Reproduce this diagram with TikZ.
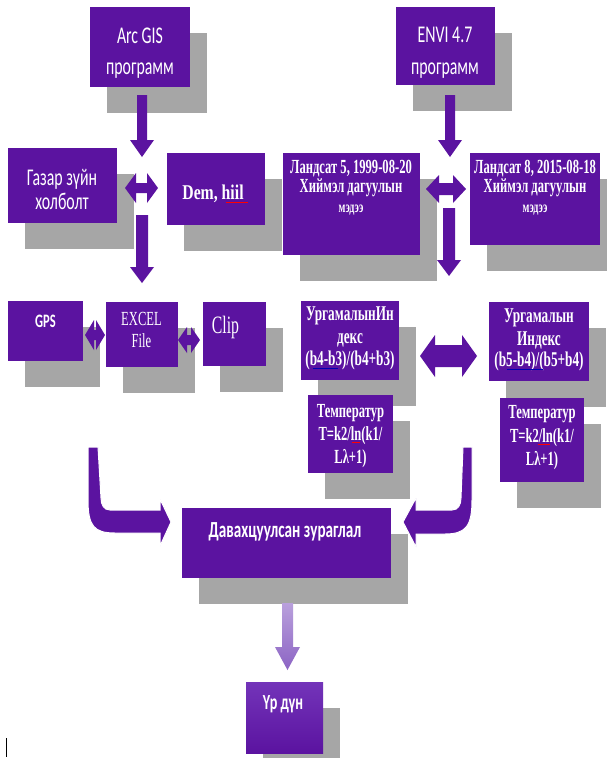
\documentclass[tikz,border=0pt]{standalone}
\usepackage{fontspec}
\setmainfont{Carlito}
\newfontfamily\calf[FakeStretch=0.66]{Carlito}
\newfontfamily\tnrf[FakeStretch=0.63]{Liberation Serif}
\newfontfamily\tnrg[FakeStretch=0.75]{Liberation Serif}
\definecolor{purp}{RGB}{91,19,160}
\definecolor{purpl}{RGB}{115,52,185}
\definecolor{shad}{RGB}{166,166,166}
\definecolor{lav1}{RGB}{185,160,220}
\definecolor{lav2}{RGB}{140,100,196}
\tikzset{
 pbox/.style={fill=purp, draw=none, inner sep=0pt, outer sep=0pt},
 txt/.style={text=white, inner sep=0pt, anchor=base},
 arr/.style={fill=purp, draw=none},
 barr/.style={fill=purp, draw=white, line width=1pt},
 spell/.style={line width=0.8pt},
}
\newcommand\pbx[6][]{%
 \fill[shad] (#3+17,#4+26) rectangle (#5+17,#6+26);
 \pgfmathsetmacro\pbxcx{(#3+#5)/2}\pgfmathsetmacro\pbxcy{(#4+#6)/2}%
 \pgfmathsetmacro\pbxw{#5-#3}\pgfmathsetmacro\pbxh{#6-#4}%
 \node[pbox,#1,minimum width=\pbxw pt,minimum height=\pbxh pt] (#2) at (\pbxcx,\pbxcy) {};}
% vertical down block arrow: x, top, tip, shaft half, head half, head length
\newcommand\darr[6]{\fill[arr] (#1-#4,#2) -- (#1+#4,#2) -- (#1+#4,#3-#6) -- (#1+#5,#3-#6) -- (#1,#3) -- (#1-#5,#3-#6) -- (#1-#4,#3-#6) -- cycle;}
% horizontal double block arrow: xl, xr, yc, shaft half, head half, head length
\newcommand\harr[6]{\fill[arr] (#1,#3) -- (#1+#6,#3-#5) -- (#1+#6,#3-#4) -- (#2-#6,#3-#4) -- (#2-#6,#3-#5) -- (#2,#3) -- (#2-#6,#3+#5) -- (#2-#6,#3+#4) -- (#1+#6,#3+#4) -- (#1+#6,#3+#5) -- cycle;}
\begin{document}
\begin{tikzpicture}[x=1pt,y=-1pt]
\useasboundingbox (0,0) rectangle (606,758);
\fill[white] (0,0) rectangle (606,758);

% top row
\pbx{arc}{90}{7}{190}{87}
\node[txt,font=\calf\fontsize{24}{28}\selectfont] (arcA) at (140,43) {Arc GIS};
\node[txt,font=\calf\fontsize{24}{28}\selectfont] (arcB) at (140,74) {программ};
\pbx{envi}{396}{7}{495}{85}
\node[txt,font=\calf\fontsize{24}{28}\selectfont] (enviA) at (445,42) {ENVI 4.7};
\node[txt,font=\calf\fontsize{24}{28}\selectfont] (enviB) at (445,74) {программ};

% second row
\pbx{gaz}{8}{148}{117}{223}
\node[txt,font=\calf\fontsize{24}{28}\selectfont] (gazA) at (62,185) {Газар зүйн};
\node[txt,font=\calf\fontsize{24}{28}\selectfont] (gazB) at (62,209) {холболт};
\pbx{dem}{167}{153}{265}{225}
\node[txt,font=\tnrg\bfseries\fontsize{21}{25}\selectfont] (demA) at (213,199) {Dem, hiil};
\draw[spell,red] (226,202) -- (248,202);
\pbx{lsa}{283}{153}{420}{255}
\node[txt,font=\tnrf\bfseries\fontsize{20}{24}\selectfont] (lsaA) at (351,173) {Ландсат 5, 1999-08-20};
\node[txt,font=\tnrf\bfseries\fontsize{20}{24}\selectfont] (lsaB) at (351,192) {Хиймэл дагуулын};
\node[txt,font=\tnrf\bfseries\fontsize{16}{19}\selectfont] (lsaC) at (351,212) {мэдээ};
\pbx{lsb}{470}{153}{600}{245}
\node[txt,font=\tnrf\bfseries\fontsize{20}{24}\selectfont] (lsbA) at (535,173) {Ландсат 8, 2015-08-18};
\node[txt,font=\tnrf\bfseries\fontsize{20}{24}\selectfont] (lsbB) at (535,192) {Хиймэл дагуулын};
\node[txt,font=\tnrf\bfseries\fontsize{16}{19}\selectfont] (lsbC) at (535,212) {мэдээ};

% third row
\pbx{gps}{8}{301}{83}{361}
\node[txt,font=\calf\bfseries\fontsize{19}{22}\selectfont] (gpsA) at (45.5,327) {GPS};
\pbx{xls}{106}{302}{178}{367}
\node[txt,font=\tnrf\fontsize{20}{24}\selectfont] (xlsA) at (141.5,325) {EXCEL};
\node[txt,font=\tnrf\fontsize{20}{24}\selectfont] (xlsB) at (141.5,347) {File};
\pbx{clip}{203}{302}{266}{366}
\node[txt,font=\tnrf\fontsize{25}{29}\selectfont] (clipA) at (225.5,333) {Clip};
\pbx{uga}{301}{301}{399}{380}
\node[txt,font=\tnrf\bfseries\fontsize{21}{25}\selectfont] (ugaA) at (350,320) {УргамалынИн};
\node[txt,font=\tnrf\bfseries\fontsize{21}{25}\selectfont] (ugaB) at (350,343) {декс};
\node[txt,font=\tnrf\bfseries\fontsize{21}{25}\selectfont] (ugaC) at (350,365) {(b4-b3)/(b4+b3)};
\draw[spell,blue!70!black] (313,368.5) -- (338,368.5);
\pbx{ugb}{489}{302}{589}{381}
\node[txt,font=\tnrf\bfseries\fontsize{21}{25}\selectfont] (ugbA) at (539,322) {Ургамалын};
\node[txt,font=\tnrf\bfseries\fontsize{21}{25}\selectfont] (ugbB) at (539,345) {Индекс};
\node[txt,font=\tnrf\bfseries\fontsize{21}{25}\selectfont] (ugbC) at (539,366) {(b5-b4)/(b5+b4)};
\draw[spell,blue!70!black] (507,369.5) -- (543,369.5);
\pbx{tma}{308}{395}{393}{473}
\node[txt,font=\tnrf\bfseries\fontsize{20}{24}\selectfont] (tmaA) at (350.5,417) {Температур};
\node[txt,font=\tnrf\bfseries\fontsize{20}{24}\selectfont] (tmaB) at (350.5,440) {T=k2/ln(k1/};
\node[txt,font=\tnrf\bfseries\fontsize{20}{24}\selectfont] (tmaC) at (350.5,463) {L\char"03BB+1)};
\draw[spell,red] (352,442) -- (360,442);
\pbx{tmb}{500}{398}{584}{482}
\node[txt,font=\tnrf\bfseries\fontsize{20}{24}\selectfont] (tmbA) at (542,418) {Температур};
\node[txt,font=\tnrf\bfseries\fontsize{20}{24}\selectfont] (tmbB) at (542,442) {T=k2/ln(k1/};
\node[txt,font=\tnrf\bfseries\fontsize{20}{24}\selectfont] (tmbC) at (542,465) {L\char"03BB+1)};
\draw[spell,red] (538,444.5) -- (550,444.5);

% bottom
\pbx{dav}{182}{508}{391}{578}
\node[txt,font=\calf\bfseries\fontsize{23}{27}\selectfont] (davA) at (285,537) {Давахцуулсан зураглал};
\pbx[top color=purpl,bottom color=purp]{res}{246}{682}{323}{753}
\node[txt,font=\calf\bfseries\fontsize{21.5}{25}\selectfont] (resA) at (283,709) {Үр дүн};

% block arrows
\darr{142}{95}{157}{5}{12}{17}
\harr{125}{158}{188}{5}{15}{11}
\darr{142}{215}{283}{6}{12}{16}
\darr{450}{95}{157}{5}{12}{17}
\harr{426}{466}{189}{6}{14}{13}
\darr{449}{208}{276}{6}{12}{16}
\harr{85}{105}{335}{5}{15}{9}
\harr{178}{200}{340}{5}{13}{9}
\harr{420}{477}{356}{11}{21}{15}

% bent arrows into the merged map
\fill[barr] (88,447) -- (88,500) .. controls (88,526) and (94,533) .. (115,533) -- (160,533) -- (160,546) -- (171,522) -- (160,499) -- (160,510) -- (110,510) .. controls (104,510) and (101,505) .. (101,498) -- (98,447) -- cycle;
\fill[barr] (472,447) -- (472,500) .. controls (472,526) and (466,534) .. (445,534) -- (416,534) -- (416,547) -- (403,522) -- (416,498) -- (416,510) -- (452,510) .. controls (458,510) and (461,505) .. (461,498) -- (463,447) -- cycle;

% result arrow
\shade[top color=lav1,bottom color=lav2] (282,603) -- (293,603) -- (293,647) -- (300,647) -- (287.5,670) -- (275,647) -- (282,647) -- cycle;

% stray cursor mark
\draw[black,line width=1pt] (6,738) -- (6,757);
\end{tikzpicture}
\end{document}
